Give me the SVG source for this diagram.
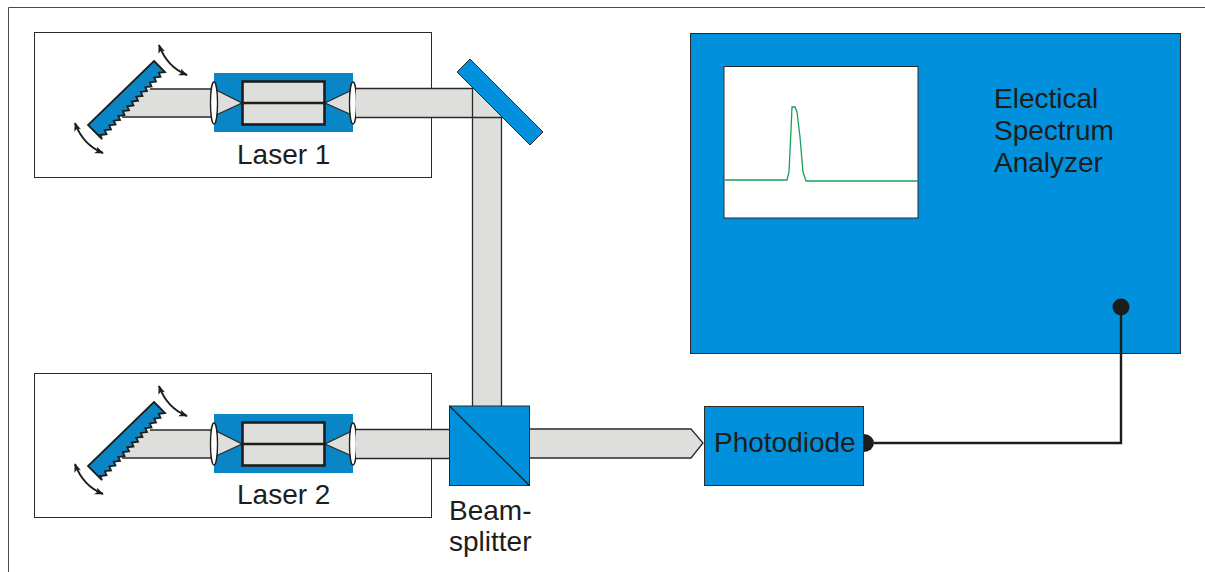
<svg xmlns="http://www.w3.org/2000/svg" width="1205" height="572" viewBox="0 0 1205 572">
<style>
text{font-family:"Liberation Sans",Arial,sans-serif;font-size:28px;fill:#1d1d1b}
.box{fill:#fff;stroke:#2b2a29;stroke-width:1}
.blue{fill:#0090dc;stroke:#2b2a29;stroke-width:1}
.dark{fill:#0a86c6;stroke:none}
.beam{fill:#dededc;stroke:none}
.edge{fill:none;stroke:#2b2a29;stroke-width:1.3}
.thick{fill:none;stroke:#1d1d1b;stroke-width:2.6}
.lens{fill:#fff;stroke:#1d1d1b;stroke-width:1.3}
.swing{fill:none;stroke:#1d1d1b;stroke-width:2;marker-start:url(#head);marker-end:url(#head)}
</style>
<defs>
<marker id="head" viewBox="0 0 10 8" refX="9" refY="4" markerWidth="9" markerHeight="7.500" markerUnits="userSpaceOnUse" orient="auto-start-reverse"><path d="M0 0L10 4L0 8L2.500 4Z" fill="#1d1d1b"/></marker>
<g id="laser-art">
<path class="beam" d="M145 89H214V117H115Z"/>
<path class="edge" d="M150 89H214M122 117H214"/>
<rect class="dark" x="214" y="73" width="139" height="59"/>
<path d="M216 90L242 103L216 115Z" class="beam"/>
<path d="M352 90L325 103L352 115Z" class="beam"/>
<path class="edge" d="M216 90L242 103L216 115M352 90L325 103L352 115"/>
<rect x="242.500" y="81.500" width="82" height="43" fill="#dededc" stroke="#1d1d1b" stroke-width="2.600"/>
<path class="thick" d="M242 103H325"/>
<ellipse class="lens" cx="214" cy="103" rx="3.500" ry="21"/>
<ellipse class="lens" cx="353" cy="103" rx="3.500" ry="21"/>
<path d="M154 61L165 72L158.800 72.800L160.500 76.800L154.300 77.600L156 81.600L149.800 82.400L151.500 86.400L145.300 87.200L147 91.100L140.800 91.900L142.500 95.900L136.300 96.700L138 100.700L131.800 101.500L133.500 105.500L127.300 106.300L129 110.300L122.800 111.100L124.500 115.100L118.300 115.900L120 119.900L113.800 120.700L115.500 124.600L109.300 125.400L111 129.400L104.800 130.200L106.500 134.200L100.300 135L102 139L88 125Z" fill="#0a86c6" stroke="#1d1d1b" stroke-width="1.800"/>
<path class="swing" d="M159 45Q167 67 187 75"/>
<path class="swing" d="M75 123Q83 145 103 153"/>
</g>
</defs>
<g id="frame"><path d="M8.500 572V7.500H1205" fill="none" stroke="#4a4a48" stroke-width="1"/></g>
<g id="laser-1">
<rect class="box" x="34.500" y="32.500" width="397" height="145"/>
<use href="#laser-art"/>
<text x="237" y="164">Laser 1</text>
</g>
<g id="laser-2">
<rect class="box" x="34.500" y="373.500" width="397" height="144"/>
<use href="#laser-art" y="341"/>
<text x="237" y="504">Laser 2</text>
</g>
<g id="analyzer">
<rect class="blue" x="690.500" y="33.500" width="490" height="320"/>
<rect x="724" y="66.500" width="194" height="151.500" fill="#fff" stroke="#2b2a29" stroke-width="1"/>
<path d="M725 180H787L789 172L791 130L792 107H795L797 112L800 137L803 172L806 181H918" fill="none" stroke="#17a05a" stroke-width="1.300"/>
<text x="994" y="108">Electical</text>
<text x="994" y="140">Spectrum</text>
<text x="994" y="172">Analyzer</text>
<circle cx="1121" cy="307" r="8.500" fill="#1d1d1b"/>
</g>
<g id="connectors">
<path class="beam" d="M356 89H473L502 118V406H473V118H356Z"/>
<path class="beam" d="M356 89H473L502 118H356Z"/>
<path class="edge" d="M356 88.500H473M356 117.500H502M472.500 88.500V406M501.500 118V406"/>
<path class="beam" d="M356 430H449V458H356Z"/>
<path class="edge" d="M356 429.500H449M356 458.500H449"/>
<path class="beam" d="M530 429H691L703 443L691 458H530Z"/>
<path class="edge" d="M530 429H691L703 443L691 458H530"/>
<path d="M874 443H1121V307" fill="none" stroke="#1d1d1b" stroke-width="2.400"/>
</g>
<g id="mirror"><path class="blue" d="M470 59L543 132L530 145L457 72Z"/></g>
<g id="beamsplitter">
<rect class="blue" x="449.500" y="406" width="80" height="79.500"/>
<path d="M449.500 406L529.500 485.500" fill="none" stroke="#1d1d1b" stroke-width="1.300"/>
<text x="449" y="520">Beam-</text>
<text x="449" y="551">splitter</text>
</g>
<g id="photodiode">
<path d="M864 434A10 9 0 0 1 864 452Z" fill="#1d1d1b"/>
<rect class="blue" x="704.500" y="406.500" width="159" height="79"/>
<text x="714" y="452">Photodiode</text>
</g>
</svg>
